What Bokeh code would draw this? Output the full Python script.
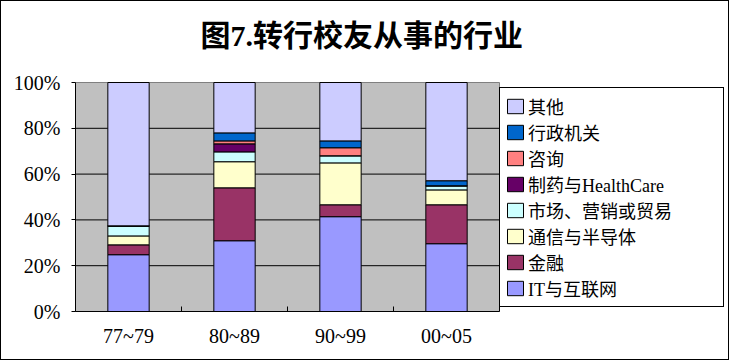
from bokeh.plotting import figure
from bokeh.models import (ColumnDataSource, Range1d, LinearAxis, FixedTicker,
                          NumeralTickFormatter, Legend, LegendItem, Label)
from bokeh.embed import file_html
from bokeh.resources import INLINE

# ---- data (percent) ----
categories = ["77~79", "80~89", "90~99", "00~05"]
it_internet = [24.8, 30.9, 41.4, 29.6]
finance = [4.3, 23.1, 5.2, 17.0]
telecom_semi = [3.9, 11.4, 18.3, 6.5]
marketing_trade = [4.4, 4.3, 3.1, 1.8]
pharma_health = [0.0, 3.5, 0.0, 0.0]
consulting = [0.0, 1.3, 3.5, 0.0]
government = [0.0, 3.5, 3.0, 2.2]
others = [62.6, 22.0, 25.5, 42.9]

series_labels = ["IT与互联网", "金融", "通信与半导体", "市场、营销或贸易",
                 "制药与HealthCare", "咨询", "行政机关", "其他"]
series_colors = ["#9999FF", "#993366", "#FFFFCC", "#CCFFFF",
                 "#660066", "#FF8080", "#0066CC", "#CCCCFF"]
y_ticks = [0, 20, 40, 60, 80, 100]
title_text = "图7.转行校友从事的行业"

FONT = "Liberation Serif, Noto Sans CJK SC"

series = [it_internet, finance, telecom_semi, marketing_trade,
          pharma_health, consulting, government, others]
keys = ["s%d" % i for i in range(len(series))]
xs = list(range(1, len(categories) + 1))
data = {"x": xs}
for k, vals in zip(keys, series):
    data[k] = [v / 100.0 for v in vals]
src = ColumnDataSource(data)

# ---- layout (pixels) ----
W, H = 729, 360            # + 1px css border on each side
BL, BB = 74, 50            # frame: left at page 75, bottom at page 311
PLOT_W, PLOT_H = 424, 229  # grey plot area size in pixels
frame_w = W - BL
frame_h = H - BB
n = len(categories)
x0, x1 = 0.5, n + 0.5
y_top = y_ticks[-1] / 100.0
x_end = x0 + (x1 - x0) * frame_w / PLOT_W
y_end = y_top * frame_h / PLOT_H

p = figure(width=W, height=H, output_backend="svg", toolbar_location=None,
           x_range=Range1d(x0, x_end), y_range=Range1d(0, y_end),
           x_axis_type=None,
           min_border_left=BL, min_border_top=0, min_border_bottom=BB, min_border_right=0)
p.styles = {"border": "1px solid black"}
p.background_fill_color = "white"
p.border_fill_color = "white"
p.outline_line_color = None
p.ygrid.visible = False

# grey plot area and black grid lines
p.quad(left=[x0], right=[x1], bottom=[0], top=[y_top],
       fill_color="#C0C0C0", line_color="#808080", line_width=1)
grid_vals = [t / 100.0 for t in y_ticks[1:-1]]
p.segment(x0=[x0] * len(grid_vals), x1=[x1] * len(grid_vals),
          y0=grid_vals, y1=grid_vals, line_color="black", line_width=1)

renderers = p.vbar_stack(keys, x="x", width=0.39, source=src,
                         fill_color=series_colors, line_color="black", line_width=1)

# y axis
p.yaxis.ticker = FixedTicker(ticks=[t / 100.0 for t in y_ticks])
p.yaxis.bounds = (0, y_top)
p.yaxis.formatter = NumeralTickFormatter(format="0%")
p.yaxis.axis_line_color = "black"
p.yaxis.major_tick_in = 0
p.yaxis.major_tick_out = 4
p.yaxis.minor_tick_line_color = None
p.yaxis.major_label_text_font = FONT
p.yaxis.major_label_text_font_size = "20px"
p.yaxis.major_label_text_color = "black"
p.yaxis.major_label_standoff = 11

# x axis: category labels, minor ticks at category boundaries
x_axis = LinearAxis(ticker=FixedTicker(ticks=xs,
                                       minor_ticks=[i + 0.5 for i in range(n + 1)]),
                    bounds=(x0, x1),
                    major_label_overrides={x: c for x, c in zip(xs, categories)},
                    axis_line_color="black", major_tick_line_color=None,
                    major_tick_in=0, major_tick_out=0,
                    minor_tick_line_color="black", minor_tick_in=5, minor_tick_out=0,
                    major_label_standoff=13,
                    major_label_text_font=FONT, major_label_text_font_size="20px",
                    major_label_text_color="black")
p.add_layout(x_axis, "below")

# title (screen units from the frame's bottom-left corner)
p.add_layout(Label(x=125, y=276, x_units="screen", y_units="screen", text=title_text,
                   text_font=FONT, text_font_size="30px", text_font_style="bold",
                   text_color="black", text_align="left", text_baseline="middle"))

# legend, just right of the grey plot area
items = [LegendItem(label=lab, renderers=[r])
         for lab, r in reversed(list(zip(series_labels, renderers)))]
legend = Legend(items=items, location=(PLOT_W, 4), margin=0, padding=5,
                spacing=0, glyph_width=20, glyph_height=18, label_height=18,
                label_width=190, label_standoff=3,
                label_text_font=FONT, label_text_font_size="18px",
                label_text_color="black",
                border_line_color="black", border_line_width=1, border_line_alpha=1.0,
                background_fill_color="white", background_fill_alpha=1.0)
p.add_layout(legend, "center")

open("out.html", "w").write(file_html(p, INLINE))
